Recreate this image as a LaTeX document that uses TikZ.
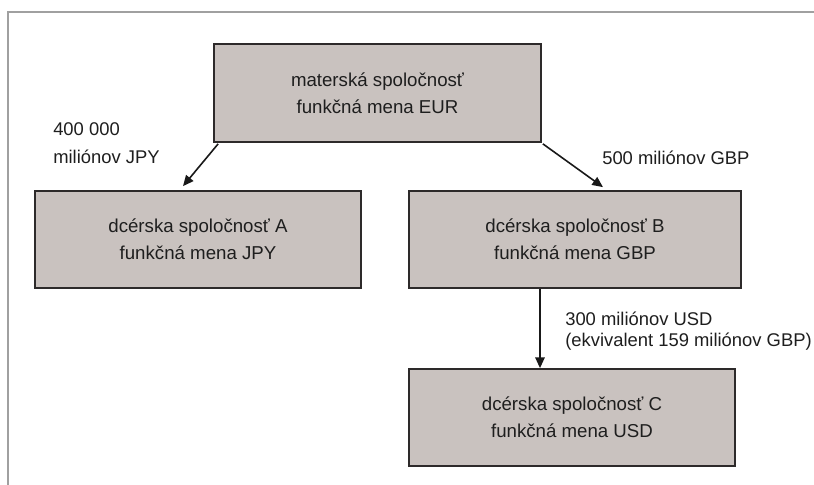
\documentclass[tikz,border=0pt]{standalone}
\usepackage{fontspec}
\setmainfont{Liberation Sans}
\usetikzlibrary{arrows.meta,calc}
\definecolor{boxfill}{RGB}{201,194,191}
\definecolor{boxline}{RGB}{45,42,42}
\definecolor{frameline}{RGB}{160,160,160}
\definecolor{txt}{RGB}{30,30,30}
\begin{document}
\begin{tikzpicture}[x=0.75pt,y=-0.75pt,
  entity/.style={draw=boxline,fill=boxfill,line width=1.3pt,minimum width=#1*0.75pt,
    minimum height=97*0.75pt,inner sep=0pt,align=center,font=\fontsize{14}{20.2}\selectfont,text=txt},
  flow/.style={draw=black!90,line width=1.2pt,-{Triangle[length=8pt,width=7pt]}},
  amount/.style={anchor=west,align=left,inner sep=0pt,font=\fontsize{13.8}{15.3}\selectfont,text=txt}]
  \useasboundingbox (0,0) rectangle (814,485);
  % page frame
  \draw[frameline,line width=0.9pt] (814,12) -- (8,12) -- (8,485);

  % companies
  \node[entity=327,minimum height=98*0.75pt] (parent) at (377.5,93) {materská spoločnosť\\funkčná mena EUR};
  \node[entity=326] (subA) at (198,239.5) {dcérska spoločnosť A\\funkčná mena JPY};
  \node[entity=332] (subB) at (575,239.5) {dcérska spoločnosť B\\funkčná mena GBP};
  \node[entity=326] (subC) at (572,417.5) {dcérska spoločnosť C\\funkčná mena USD};

  % investments
  \draw[flow] ($(parent.south west)+(5,1)$) -- ($(subA.north)+(-15,-4)$);
  \draw[flow] ($(parent.south east)+(1,1)$) -- ($(subB.north)+(28,-3)$);
  \draw[flow] ($(subB.south)+(-35,0)$) -- ($(subC.north)+(-32,0)$);

  % amounts
  \node[amount,font=\fontsize{13.8}{21}\selectfont] (amtA) at (53,143) {400 000\\miliónov JPY};
  \node[amount] (amtB) at (602,158) {500 miliónov GBP};
  \node[amount] (amtC) at (565,331) {300 miliónov USD\\(ekvivalent 159 miliónov GBP)};
\end{tikzpicture}
\end{document}
